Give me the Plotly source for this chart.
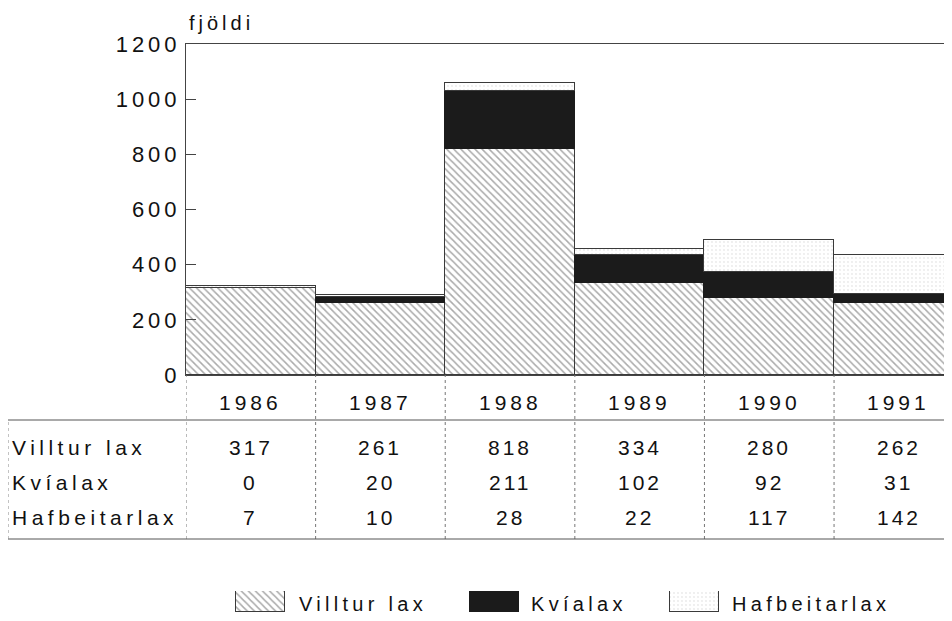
import plotly.graph_objects as go

# ---------------- data ----------------
years = ["1986", "1987", "1988", "1989", "1990", "1991"]
villtur_lax = [317, 261, 818, 334, 280, 262]
kvialax = [0, 20, 211, 102, 92, 31]
hafbeitarlax = [7, 10, 28, 22, 117, 142]
series_names = ["Villtur lax", "Kvíalax", "Hafbeitarlax"]
y_ticks = [0, 200, 400, 600, 800, 1000, 1200]
y_title = "fjöldi"

series_values = [villtur_lax, kvialax, hafbeitarlax]

# ---------------- layout helpers ----------------
# the page body has an 8px margin, so the figure is drawn 8px in from the window edge
OFF = 8
W, H = 952 - OFF, 621 - OFF
FONT = "Liberation Sans, Arial, Helvetica, sans-serif"
INK = "#111111"


def px(x):
    """window pixel x -> paper fraction"""
    return (x - OFF) / W


def py(y):
    """window pixel y -> paper fraction"""
    return 1 - (y - OFF) / H


def ls(text, spacing):
    return f'<span style="letter-spacing:{spacing}px">{text}</span>'


styles = [
    dict(color="white",
         pattern=dict(shape="\\", fgcolor="#555555", bgcolor="white", size=5, solidity=0.3),
         line=dict(color="#3a3a3a", width=1)),
    dict(color="#1b1b1b", line=dict(color="#1b1b1b", width=1)),
    dict(color="white",
         pattern=dict(shape=".", fgcolor="#d2d2d2", bgcolor="white", size=4, solidity=0.16),
         line=dict(color="#3a3a3a", width=1)),
]

fig = go.Figure()

for name, vals, st in zip(series_names, series_values, styles):
    fig.add_trace(go.Bar(x=years, y=vals, name=name, marker=st,
                         showlegend=False, hoverinfo="x+y+name"))

# legend swatches drawn as bars on an auxiliary (hidden) axis measured in window pixels
legend_swatch_centers = [260.5, 494.5, 694.5]
legend_text_left = [297, 529, 730]
for name, st, cx in zip(series_names, styles, legend_swatch_centers):
    fig.add_trace(go.Bar(x=[cx], y=[1], width=[49], marker=st, xaxis="x2", yaxis="y2",
                         showlegend=False, hoverinfo="skip"))

annotations = []
shapes = []

# y-axis title
annotations.append(dict(text=ls(y_title, 4), xref="paper", yref="paper",
                        x=px(187), y=py(23), xanchor="left", yanchor="middle",
                        showarrow=False, font=dict(size=20, color=INK, family=FONT)))

# table: years row
row_y = {"year": 402, 0: 447, 1: 482, 2: 517}
for i, yr in enumerate(years):
    annotations.append(dict(text=ls(yr, 4), xref="x", yref="paper", x=i, y=py(row_y["year"]),
                            xanchor="center", yanchor="middle", showarrow=False,
                            font=dict(size=21, color=INK, family=FONT)))
# table: value rows
for r, (name, vals) in enumerate(zip(series_names, series_values)):
    annotations.append(dict(text=ls(name, 4.5), xref="paper", yref="paper", x=px(10), y=py(row_y[r]),
                            xanchor="left", yanchor="middle", showarrow=False,
                            font=dict(size=21, color=INK, family=FONT)))
    for i, v in enumerate(vals):
        annotations.append(dict(text=ls(str(v), 3), xref="x", yref="paper", x=i, y=py(row_y[r]),
                                xanchor="center", yanchor="middle", showarrow=False,
                                font=dict(size=21, color=INK, family=FONT)))

# table lines
for k in range(len(years)):
    shapes.append(dict(type="line", xref="x", yref="paper", x0=k - 0.5, x1=k - 0.5,
                       y0=py(539), y1=py(375), line=dict(color="#777", width=1, dash="dot")))
for yy in (420, 539):
    shapes.append(dict(type="line", xref="paper", yref="paper", x0=px(8), x1=1,
                       y0=py(yy), y1=py(yy), line=dict(color="#555", width=1)))
shapes.append(dict(type="line", xref="paper", yref="paper", x0=px(8), x1=px(8),
                   y0=py(539), y1=py(420), line=dict(color="#888", width=1, dash="dot")))

# legend labels
for name, tx in zip(series_names, legend_text_left):
    annotations.append(dict(text=ls(name, 4.3), xref="paper", yref="paper", x=px(tx), y=py(604),
                            xanchor="left", yanchor="middle", showarrow=False,
                            font=dict(size=20, color=INK, family=FONT)))

fig.update_layout(
    width=W, height=H,
    margin=dict(l=0, r=0, t=0, b=0, autoexpand=False),
    paper_bgcolor="white", plot_bgcolor="white",
    barmode="stack", bargap=0,
    font=dict(family=FONT, color=INK),
    showlegend=False,
    xaxis=dict(domain=[px(186), 1], range=[-0.5, 5.41], showticklabels=False, ticks="",
               showgrid=False, zeroline=False, showline=True, mirror=True,
               linecolor="#444", linewidth=1, fixedrange=True),
    yaxis=dict(domain=[py(375), py(44)], range=[0, 1200], tickvals=y_ticks,
               ticktext=[ls(str(t), 4) for t in y_ticks],
               ticks="inside", ticklen=10, tickwidth=1, tickcolor="#444",
               showgrid=False, zeroline=False, showline=True, linecolor="#444", linewidth=1,
               tickfont=dict(size=22, color=INK, family=FONT), fixedrange=True),
    xaxis2=dict(domain=[0, 1], range=[OFF, 952], visible=False, anchor="y2", fixedrange=True),
    yaxis2=dict(domain=[py(612), py(591)], range=[0, 1], visible=False, anchor="x2", fixedrange=True),
    annotations=annotations,
    shapes=shapes,
)

fig.write_html("out.html")
